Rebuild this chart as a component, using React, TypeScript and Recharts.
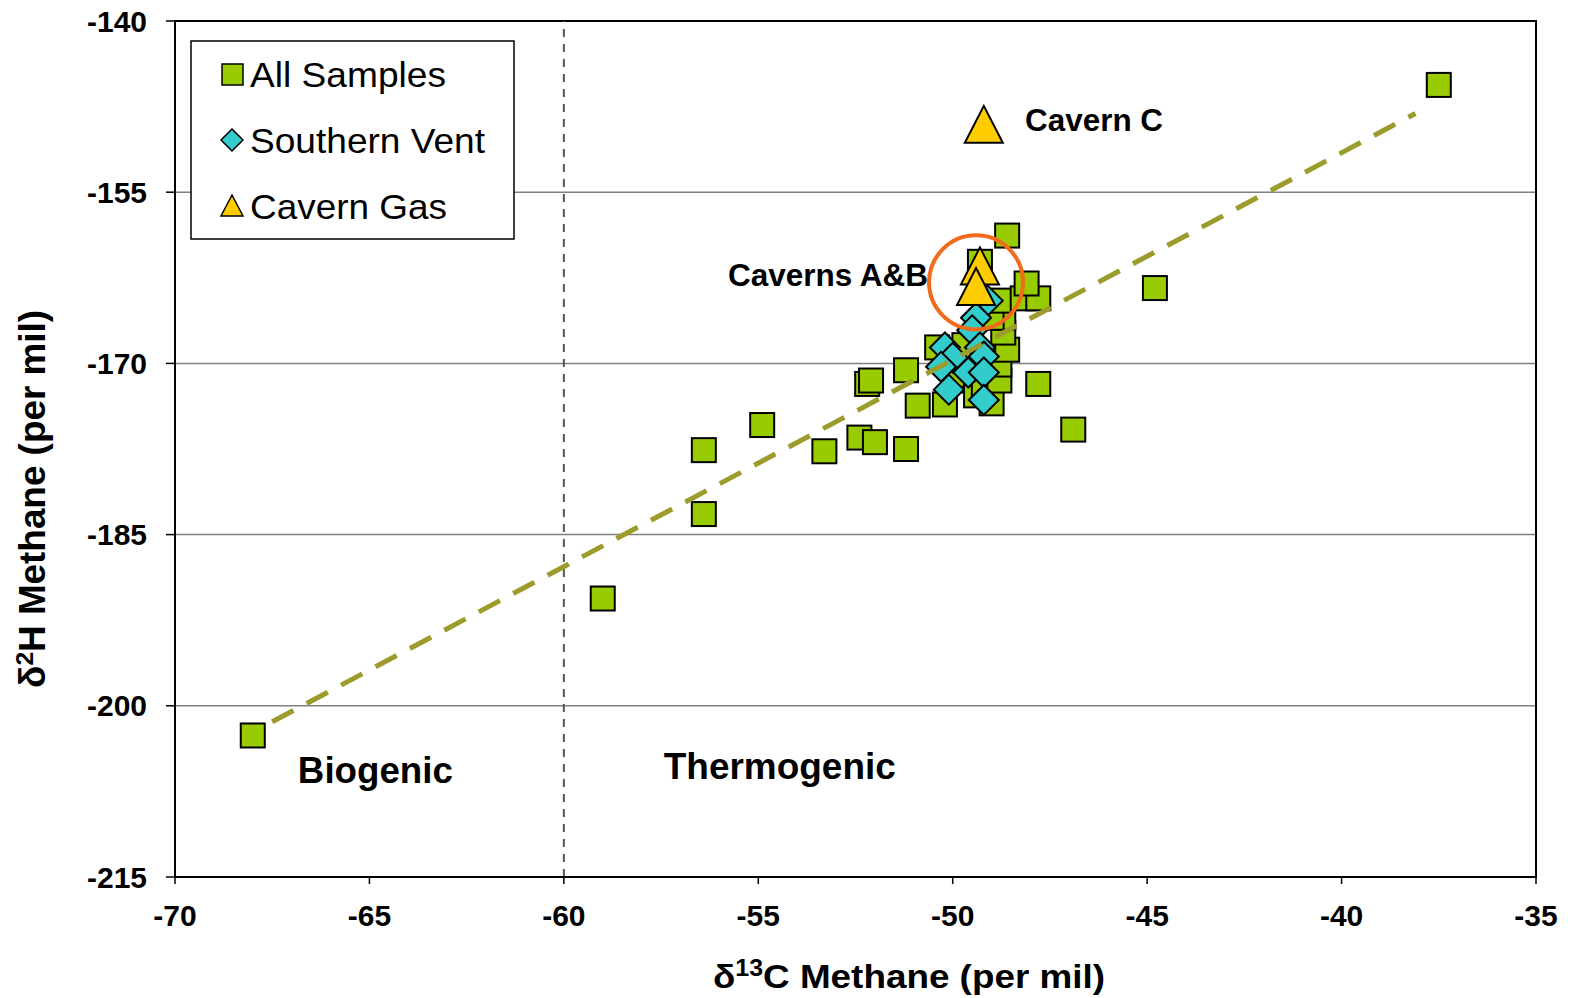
import React from 'react';
import {
  ScatterChart,
  Scatter,
  XAxis,
  YAxis,
  CartesianGrid,
  ReferenceLine,
  ReferenceArea,
  ReferenceDot,
  Label,
} from 'recharts';

// delta 13C / delta 2H methane readings
const allSamples = [
  { x: -68.0, y: -202.6 },
  { x: -59.0, y: -190.6 },
  { x: -56.4, y: -177.6 },
  { x: -56.4, y: -183.2 },
  { x: -54.9, y: -175.4 },
  { x: -53.3, y: -177.7 },
  { x: -52.4, y: -176.5 },
  { x: -52.0, y: -176.9 },
  { x: -51.2, y: -177.5 },
  { x: -52.2, y: -171.8 },
  { x: -52.1, y: -171.5 },
  { x: -51.2, y: -170.6 },
  { x: -50.9, y: -173.7 },
  { x: -50.2, y: -173.6 },
  { x: -50.4, y: -168.6 },
  { x: -49.8, y: -171.5 },
  { x: -49.9, y: -171.0 },
  { x: -49.7, y: -168.4 },
  { x: -49.4, y: -172.8 },
  { x: -49.2, y: -171.9 },
  { x: -49.0, y: -173.5 },
  { x: -48.8, y: -171.5 },
  { x: -48.8, y: -170.1 },
  { x: -48.6, y: -168.8 },
  { x: -48.7, y: -167.3 },
  { x: -48.7, y: -166.0 },
  { x: -49.0, y: -166.0 },
  { x: -48.8, y: -164.5 },
  { x: -48.2, y: -164.3 },
  { x: -47.8, y: -164.3 },
  { x: -48.1, y: -163.0 },
  { x: -48.6, y: -158.8 },
  { x: -49.3, y: -161.1 },
  { x: -47.8, y: -171.8 },
  { x: -46.9, y: -175.8 },
  { x: -44.8, y: -163.4 },
  { x: -37.5, y: -145.6 },
];

const southernVent = [
  { x: -49.1, y: -164.5 },
  { x: -49.4, y: -166.0 },
  { x: -49.5, y: -167.1 },
  { x: -50.2, y: -168.6 },
  { x: -49.3, y: -168.6 },
  { x: -50.0, y: -169.5 },
  { x: -49.2, y: -169.4 },
  { x: -50.3, y: -170.3 },
  { x: -49.6, y: -170.8 },
  { x: -49.2, y: -170.8 },
  { x: -50.1, y: -172.3 },
  { x: -49.2, y: -173.2 },
];

const cavernGas = [
  { x: -49.2, y: -149.1 },
  { x: -49.3, y: -161.5 },
  { x: -49.4, y: -163.3 },
];

// end points of the dashed trend line
const trendLine = [
  { x: -67.5, y: -201.4 },
  { x: -38.1, y: -148.1 },
];

// circle drawn round caverns A & B
const cavernCircle = [{ x: -49.4, y: -162.9 }];

const xTicks = [-70, -65, -60, -55, -50, -45, -40, -35];
const yTicks = [-215, -200, -185, -170, -155, -140];
const seriesNames = ['All Samples', 'Southern Vent', 'Cavern Gas'];

const FONT = '"Liberation Sans", Arial, Helvetica, sans-serif';
const GREEN = '#99CC00';
const CYAN = '#33CCCC';
const GOLD = '#FFCC00';

const Square = (p: any) => (
  <rect x={p.cx - 12} y={p.cy - 12} width={24} height={24} fill={GREEN} stroke="#000" strokeWidth={2} />
);

const Diamond = (p: any) => (
  <polygon
    points={`${p.cx},${p.cy - 15} ${p.cx + 15},${p.cy} ${p.cx},${p.cy + 15} ${p.cx - 15},${p.cy}`}
    fill={CYAN}
    stroke="#000"
    strokeWidth={2}
  />
);

const Triangle = (p: any) => (
  <polygon
    points={`${p.cx},${p.cy - 19} ${p.cx + 19},${p.cy + 18} ${p.cx - 19},${p.cy + 18}`}
    fill={GOLD}
    stroke="#000"
    strokeWidth={2}
  />
);

const Ring = (p: any) => <circle cx={p.cx} cy={p.cy} r={47} fill="none" stroke="#F26A1B" strokeWidth={4} />;

const NoDot = () => <g />;

// bold text label hung on a reference dot
const note = (text: string, len: number, size: number) => (props: any) => {
  const vb = props.viewBox || {};
  return (
    <text
      x={vb.x}
      y={vb.y}
      dy="0.36em"
      fontFamily={FONT}
      fontWeight="bold"
      fontSize={size}
      textLength={len}
      lengthAdjust="spacingAndGlyphs"
      fill="#000"
    >
      {text}
    </text>
  );
};

const legendMarks = [
  (cx: number, cy: number) => <rect x={cx - 10} y={cy - 10} width={21} height={21} fill={GREEN} stroke="#000" strokeWidth={1.5} />,
  (cx: number, cy: number) => (
    <polygon points={`${cx},${cy - 11} ${cx + 11},${cy} ${cx},${cy + 11} ${cx - 11},${cy}`} fill={CYAN} stroke="#000" strokeWidth={1.5} />
  ),
  (cx: number, cy: number) => (
    <polygon points={`${cx},${cy - 11} ${cx + 11},${cy + 10} ${cx - 11},${cy + 10}`} fill={GOLD} stroke="#000" strokeWidth={1.5} />
  ),
];
const legendTextLen = [196, 235, 197];

const LegendBox = () => (
  <svg width={330} height={205} style={{ position: 'absolute', left: 188, top: 38 }}>
    <rect x={3} y={3} width={323} height={198} fill="#fff" stroke="#000" strokeWidth={1.5} />
    {seriesNames.map((name, i) => (
      <g key={name}>
        {legendMarks[i](44, 36 + i * 66)}
        <text
          x={62}
          y={49 + i * 66}
          fontFamily={FONT}
          fontSize={35}
          textLength={legendTextLen[i]}
          lengthAdjust="spacingAndGlyphs"
          fill="#000"
        >
          {name}
        </text>
      </g>
    ))}
  </svg>
);

const tickStyle = { fontSize: 30, fontWeight: 'bold', fill: '#000', fontFamily: FONT };

export default function App() {
  return (
    <div style={{ position: 'absolute', left: 0, top: 0, width: 1571, height: 998, background: '#fff' }}>
      <ScatterChart width={1571} height={998} margin={{ top: 21, right: 35, bottom: 0, left: 0 }}>
        <CartesianGrid vertical={false} stroke="#808080" strokeWidth={1.5} />
        <XAxis
          type="number"
          dataKey="x"
          domain={[-70, -35]}
          ticks={xTicks}
          interval={0}
          height={121}
          tickSize={7}
          tickMargin={21}
          tick={tickStyle}
          axisLine={{ stroke: '#000', strokeWidth: 2 }}
          tickLine={{ stroke: '#000', strokeWidth: 1.5 }}
          allowDataOverflow
        >
          <Label
            content={() => (
              <text
                x={909}
                y={988}
                textAnchor="middle"
                fontFamily={FONT}
                fontWeight="bold"
                fontSize={34}
                textLength={392}
                lengthAdjust="spacingAndGlyphs"
                fill="#000"
              >
                δ
                <tspan dy={-12} fontSize={23}>
                  13
                </tspan>
                <tspan dy={12}>C Methane (per mil)</tspan>
              </text>
            )}
          />
        </XAxis>
        <YAxis
          type="number"
          dataKey="y"
          domain={[-215, -140]}
          ticks={yTicks}
          interval={0}
          width={175}
          tickSize={9}
          tickMargin={19}
          tick={tickStyle}
          axisLine={{ stroke: '#000', strokeWidth: 2 }}
          tickLine={{ stroke: '#000', strokeWidth: 1.5 }}
          allowDataOverflow
        >
          <Label
            content={() => (
              <text
                x={32}
                y={499}
                transform="rotate(-90 32 499)"
                textAnchor="middle"
                dy="0.36em"
                fontFamily={'"Liberation Sans Narrow", "Arial Narrow", ' + FONT}
                fontWeight="bold"
                fontSize={36}
                textLength={378}
                lengthAdjust="spacingAndGlyphs"
                fill="#000"
              >
                δ
                <tspan dy={-12} fontSize={24}>
                  2
                </tspan>
                <tspan dy={12}>H Methane (per mil)</tspan>
              </text>
            )}
          />
        </YAxis>
        <ReferenceLine x={-60} stroke="#555" strokeWidth={2} strokeDasharray="8 7" />
        <ReferenceArea x1={-70} x2={-35} y1={-215} y2={-140} fill="none" stroke="#000" strokeWidth={2} />
        <Scatter name="All Samples" data={allSamples} shape={Square} isAnimationActive={false} />
        <Scatter name="Southern Vent" data={southernVent} shape={Diamond} isAnimationActive={false} />
        <Scatter
          name="Trend"
          data={trendLine}
          shape={NoDot}
          line={{ stroke: '#9C9C2C', strokeWidth: 5, strokeDasharray: '24 15' }}
          lineType="joint"
          isAnimationActive={false}
        />
        <Scatter name="Cavern Gas" data={cavernGas} shape={Triangle} isAnimationActive={false} />
        <Scatter name="Circle" data={cavernCircle} shape={Ring} isAnimationActive={false} />
        <ReferenceDot x={-48.14} y={-148.7} r={0} fill="none" stroke="none" label={{ content: note('Cavern C', 138, 31) }} />
        <ReferenceDot x={-55.78} y={-162.2} r={0} fill="none" stroke="none" label={{ content: note('Caverns A&B', 200, 31) }} />
        <ReferenceDot x={-66.84} y={-205.6} r={0} fill="none" stroke="none" label={{ content: note('Biogenic', 155, 36) }} />
        <ReferenceDot x={-57.43} y={-205.3} r={0} fill="none" stroke="none" label={{ content: note('Thermogenic', 232, 36) }} />
      </ScatterChart>
      <LegendBox />
    </div>
  );
}
